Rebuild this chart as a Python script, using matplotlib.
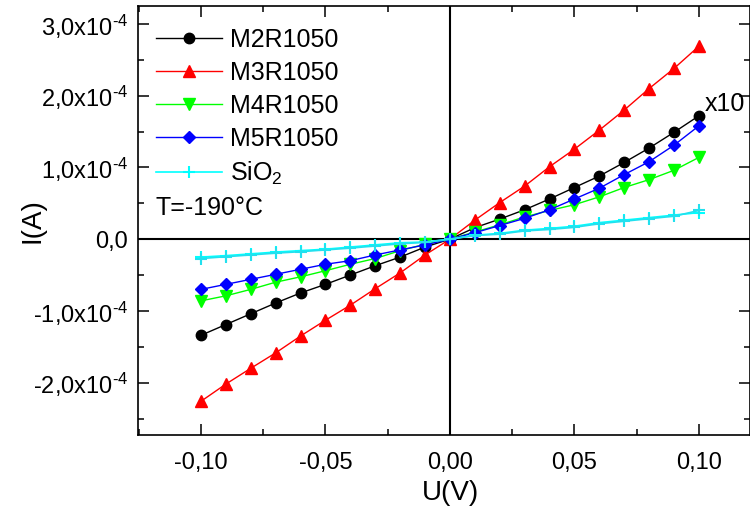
import matplotlib
matplotlib.use("Agg")
import matplotlib.pyplot as plt
import numpy as np

plt.rcParams['font.family'] = ['Liberation Sans', 'DejaVu Sans']
plt.rcParams['mathtext.fontset'] = 'custom'
plt.rcParams['mathtext.rm'] = 'Liberation Sans'
plt.rcParams['mathtext.it'] = 'Liberation Sans'
plt.rcParams['mathtext.default'] = 'regular'

# ---- data (I in units of 1e-4 A) ----
U = [-0.10, -0.09, -0.08, -0.07, -0.06, -0.05, -0.04, -0.03, -0.02, -0.01, 0.00,
     0.01, 0.02, 0.03, 0.04, 0.05, 0.06, 0.07, 0.08, 0.09, 0.10]

M2R1050 = [-1.34, -1.19, -1.04, -0.89, -0.75, -0.63, -0.50, -0.37, -0.25, -0.11, 0.0,
           0.16, 0.28, 0.41, 0.56, 0.72, 0.88, 1.07, 1.27, 1.49, 1.72]
M3R1050 = [-2.26, -2.02, -1.80, -1.585, -1.35, -1.13, -0.92, -0.69, -0.47, -0.22, 0.0,
           0.265, 0.51, 0.74, 1.01, 1.255, 1.52, 1.80, 2.10, 2.38, 2.69]
M4R1050 = [-0.86, -0.79, -0.70, -0.60, -0.525, -0.44, -0.35, -0.27, -0.16, -0.07, 0.0,
           0.10, 0.20, 0.31, 0.40, 0.48, 0.59, 0.72, 0.83, 0.96, 1.14]
M5R1050 = [-0.70, -0.63, -0.56, -0.49, -0.42, -0.35, -0.30, -0.22, -0.15, -0.08, 0.0,
           0.09, 0.19, 0.29, 0.41, 0.56, 0.71, 0.90, 1.08, 1.31, 1.58]
SiO2_a = [-0.25, -0.23, -0.205, -0.18, -0.16, -0.14, -0.11, -0.08, -0.05, -0.04, 0.0,
          0.055, 0.08, 0.125, 0.15, 0.18, 0.23, 0.265, 0.30, 0.335, 0.37]
SiO2_b = [-0.27, -0.245, -0.22, -0.195, -0.175, -0.15, -0.125, -0.095, -0.065, -0.045, 0.0,
          0.05, 0.07, 0.115, 0.135, 0.165, 0.215, 0.25, 0.285, 0.32, 0.40]

scale = 1e-4

xticks = [-0.10, -0.05, 0.00, 0.05, 0.10]
xticklabels = ['-0,10', '-0,05', '0,00', '0,05', '0,10']
yticks = [-2e-4, -1e-4, 0.0, 1e-4, 2e-4, 3e-4]
yticklabels = ['-2,0x10$^{\\text{-}4}$', '-1,0x10$^{\\text{-}4}$', '0,0', '1,0x10$^{\\text{-}4}$',
               '2,0x10$^{\\text{-}4}$', '3,0x10$^{\\text{-}4}$']

fig = plt.figure(figsize=(7.5, 5.15), dpi=100)
ax = fig.add_axes([138/750, 80/515, 612/750, 429/515])

ax.axhline(0, color='black', lw=1.5, zorder=1)
ax.axvline(0, color='black', lw=1.5, zorder=1)

U_a = np.array(U)
ax.plot(U_a, np.array(M2R1050)*scale, color='black', marker='o', ms=7.5, lw=1, label='M2R1050', zorder=3)
ax.plot(U_a, np.array(M3R1050)*scale, color='#ff0000', marker='^', ms=8.5, lw=1, label='M3R1050', zorder=3)
ax.plot(U_a, np.array(M4R1050)*scale, color='#00ff00', marker='v', ms=8.5, lw=1, label='M4R1050', zorder=3)
ax.plot(U_a, np.array(M5R1050)*scale, color='#0000ff', marker='D', ms=6.5, lw=1, label='M5R1050', zorder=3)
ax.plot(U_a, np.array(SiO2_a)*scale, color='#00ffff', marker='+', ms=8, mew=1.5, lw=1.2, label='SiO$_2$', zorder=3)
ax.plot(U_a, np.array(SiO2_b)*scale, color='#22e0ee', marker='+', ms=8, mew=1.5, lw=1.2, zorder=3)

ax.set_xlim(-0.1253, 0.1205)
ax.set_ylim(-2.73e-4, 3.25e-4)

ax.set_xticks(xticks)
ax.set_xticklabels(xticklabels)
ax.set_xticks([-0.125, -0.075, -0.025, 0.025, 0.075], minor=True)
ax.set_yticks(yticks)
ax.set_yticklabels(yticklabels)
ax.set_yticks([-2.5e-4, -1.5e-4, -0.5e-4, 0.5e-4, 1.5e-4, 2.5e-4], minor=True)

ax.tick_params(which='both', direction='in', top=True, right=True, width=1.1, labelsize=17)
ax.tick_params(which='major', length=8)
ax.tick_params(which='minor', length=4.5)
ax.tick_params(axis='x', pad=12)
ax.tick_params(axis='y', pad=7)
for s in ax.spines.values():
    s.set_linewidth(1.2)

ax.set_xlabel('U(V)', fontsize=20)
ax.set_ylabel('I(A)', fontsize=20)
ax.xaxis.set_label_coords((450-138)/612, -(493-435)/429)
ax.yaxis.set_label_coords(-(138-32)/612, 0.5)
ax.xaxis.label.set_va('center')
ax.yaxis.label.set_va('center')

leg = ax.legend(loc='upper left', bbox_to_anchor=(0.0, 0.99), frameon=False, fontsize=18,
                handlelength=2.64, handletextpad=0.32, labelspacing=0.36, borderaxespad=0.5,
                borderpad=0.2)

ax.text(155, 515-208, 'T=-190°C', transform=None, fontsize=18, va='center', ha='left')
ax.text(0.1025, 1.88e-4, 'x10', fontsize=18, va='center', ha='left')

fig.savefig('out.png', dpi=100)
